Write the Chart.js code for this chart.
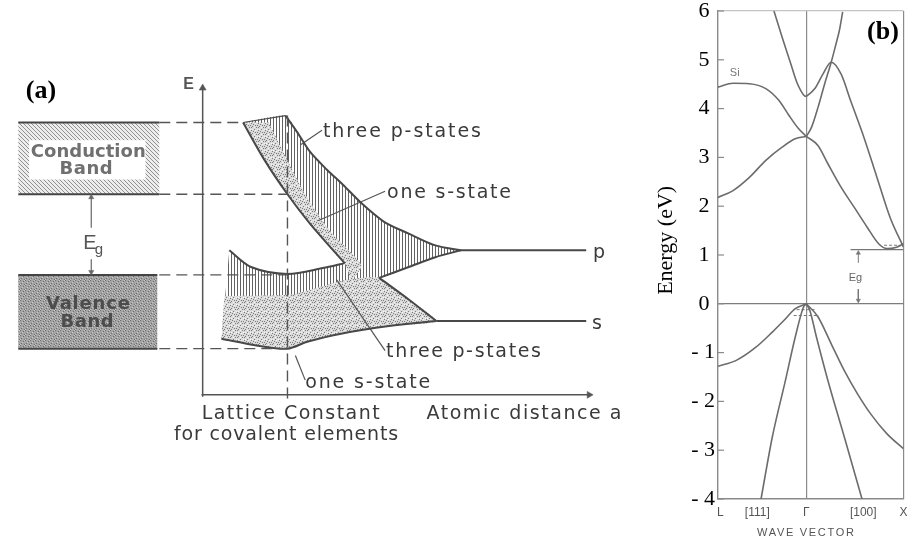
<!DOCTYPE html>
<html><head><meta charset="utf-8">
<script src="https://cdn.jsdelivr.net/npm/chart.js@4.4.1/dist/chart.umd.min.js"></script>
<style>
html,body{margin:0;padding:0;background:#fff;}
body{width:908px;height:538px;overflow:hidden;position:relative;}
.box{position:absolute;top:0;height:538px;}
#wa{left:0;width:640px;}
#wb{left:640px;width:268px;}
</style></head><body>
<div class="box" id="wa"><canvas id="ca"></canvas></div>
<div class="box" id="wb"><canvas id="cb"></canvas></div>
<script>
/* ===== Panel (a): formation of bands (schematic, arbitrary units) ===== */
/* x = atomic distance, y = electron energy */
const latticeConstant = 21.5;
const cbTopEdge    = [[10.25,69.25],[21,71]];
const pBandUpper   = [[21,71],[24,66.75],[27.25,61.75],[31.5,57.25],[35.5,53.5],[40.5,48.5],[46,44],[52.25,41],[59,38],[65.5,36.75]];
const pLevel       = [[65.5,36.75],[97.25,36.75]];
const pBandLower   = [[65.5,36.75],[59,35],[52.25,32.5],[44.75,29.75]];
const sBandUpper   = [[44.75,29.75],[52.25,24.25],[59.25,18.75]];
const sLevel       = [[59.25,18.75],[97.25,18.75]];
const vbBottomEdge = [[59.25,18.75],[47.25,17.5],[34.75,15.5],[26.5,13.5],[21.5,11.75],[14,12.5],[4.75,14.25]];
const vbTopEdge    = [[6.75,36.75],[12.25,32.5],[21.5,30.75],[30.5,32.25],[36,33.5]];
const cbLeftEdge   = [[10.25,69.25],[15.5,60],[21.5,51],[27.25,43.5],[36,33.5]];
const sStripRight  = [[16.75,69.25],[26,51],[32.25,41.75],[40.25,33],[37.75,29.25]];
const sStippleTop  = [[5.5,25.1],[22.25,25.5],[30.5,27.6],[36.5,29.25],[44.75,29.75]];
const conductionBox = [[-46.75,69.25],[-11,69.25],[-11,51],[-46.75,51]];
const valenceBox    = [[-46.75,30.5],[-11.5,30.5],[-11.5,11.75],[-46.75,11.75]];
const guideLevels   = [69.25,51,30.5,11.75];
const guideEnds     = [10.25,21.5,21.5,21.5];
const gapEdges      = [51,30.5];
const leaderLines   = [[[24.75,63.5],[30.25,67.25]],[[29.25,44.25],[46.25,51.75]],[[34,29.25],[46.25,11.25]],[[23.5,10],[26,3.75]]];

/* ===== Panel (b): Si band structure, k (L..Gamma..X) vs energy (eV) ===== */
const kL = -0.909, kX = 1.0;
const kTickLabels = ['L','[111]','\u0393','[100]','X'];
const kTickValues = [kL,-0.505,0,0.586,kX];
const energyTicks = [-4,-3,-2,-1,0,1,2,3,4,5,6];
const cbL1  = [[-0.909,4.44],[-0.754,4.52],[-0.586,4.51],[-0.417,4.41],[-0.283,4.17],[-0.182,3.87],[-0.081,3.59],[0,3.43]];
const cbL2  = [[-0.909,2.18],[-0.754,2.32],[-0.586,2.59],[-0.417,2.94],[-0.249,3.21],[-0.114,3.38],[0,3.43]];
const cbL3  = [[-0.333,6.0],[-0.249,5.46],[-0.165,4.95],[-0.098,4.54],[-0.023,4.27],[0,4.25]];
const cbX1  = [[0,3.43],[0.054,3.62],[0.121,4.03],[0.189,4.51],[0.256,4.95],[0.306,5.33],[0.340,5.60],[0.374,5.98]];
const cbX2  = [[0,4.25],[0.088,4.41],[0.172,4.71],[0.256,4.95],[0.357,4.71],[0.458,4.15],[0.593,3.41],[0.727,2.59],[0.862,1.77],[1.0,1.16]];
const cbX3  = [[0,3.43],[0.121,3.24],[0.222,2.87],[0.357,2.39],[0.492,1.98],[0.626,1.57],[0.744,1.23],[0.828,1.13],[0.929,1.16],[1.0,1.23]];
const vbL1  = [[-0.909,-1.28],[-0.721,-1.16],[-0.519,-0.89],[-0.350,-0.58],[-0.215,-0.31],[-0.114,-0.10],[0,0]];
const vbL2  = [[-0.468,-4.02],[-0.350,-2.73],[-0.215,-1.57],[-0.114,-0.68],[-0.030,-0.07],[0,0]];
const vbX1  = [[0,0],[0.037,-0.14],[0.104,-0.68],[0.222,-1.57],[0.391,-2.73],[0.576,-4.02]];
const vbX2  = [[0,0],[0.121,-0.27],[0.256,-0.82],[0.391,-1.37],[0.525,-1.84],[0.660,-2.25],[0.828,-2.66],[1.0,-2.97]];
const cbMinLevel = [[0.455,1.11],[1.0,1.11]];
const holeMarks  = [[[-0.10,-0.12],[0.10,-0.12]],[[-0.13,-0.24],[0.13,-0.24]]];
const electronMarks = [[[0.80,1.20],[0.96,1.20]]];
const gapArrowK = 0.535;

/* ---------- helpers ---------- */
const pts = a => a.map(([x,y]) => ({x, y}));
const rev = a => a.slice().reverse();
const FS = '"Liberation Sans", Arial, sans-serif';
const FD = '"DejaVu Sans", sans-serif';
const FT = '"Liberation Serif", "Times New Roman", serif';
const INK = '#484848';

function makePattern(w, h, bg, marks) {
  const c = document.createElement('canvas'); c.width = w; c.height = h;
  const g = c.getContext('2d');
  g.fillStyle = bg; g.fillRect(0, 0, w, h);
  marks.forEach(([col, cells]) => { g.fillStyle = col; cells.forEach(([i, j, a, b]) => g.fillRect(i, j, a || 1, b || 1)); });
  return g.createPattern(c, 'repeat');
}
const vHatch = makePattern(3, 3, '#ffffff', [['#626262', [[0,0,1,3]]]]);
const stipple = makePattern(7, 7, '#dadada', [['#7c7c7c', [[0,0],[4,1],[2,3],[6,4],[1,5],[5,6],[3,6],[6,1]]], ['#f6f6f6', [[2,1],[5,3],[0,3],[3,4]]]]);
const diagHatch = makePattern(4, 4, '#ededed', [['#8f8f8f', [[0,0],[1,1],[2,2],[3,3]]]]);
const darkStipple = makePattern(5, 5, '#a4a4a4', [['#6c6c6c', [[0,0],[3,1],[1,3],[4,4]]], ['#c9c9c9', [[2,2],[4,0],[0,4]]]]);

function lineDS(arr, o) {
  return Object.assign({data: pts(arr), showLine: true, fill: false, borderColor: INK, borderWidth: 2,
    pointRadius: 0, tension: 0.3, order: 1}, o || {});
}
function areaDS(arr, bg, order, tension) {
  return {data: pts(arr), showLine: true, fill: 'shape', backgroundColor: bg, borderColor: 'rgba(0,0,0,0)',
    borderWidth: 1, pointRadius: 0, tension: tension === undefined ? 0.2 : tension, order};
}
function arrowDS(arr, rot, radius, col, o) {
  return Object.assign({data: pts(arr), showLine: true, fill: false, borderColor: col, borderWidth: 1.5,
    pointStyle: 'triangle', pointRadius: arr.map((p, i) => radius[i]), pointRotation: rot,
    pointBackgroundColor: col, pointBorderColor: col, pointBorderWidth: 0.5, tension: 0, order: 0}, o || {});
}
function drawText(ctx, s, px, py, o) {
  ctx.save();
  ctx.font = o.font; ctx.fillStyle = o.color || '#3f3f3f';
  ctx.textAlign = o.align || 'left'; ctx.textBaseline = o.base || 'alphabetic';
  if (o.width) {
    const n = Array.from(s).length, w = ctx.measureText(s).width;
    if (n > 1 && 'letterSpacing' in ctx) ctx.letterSpacing = ((o.width - w) / (n - 1)).toFixed(2) + 'px';
  }
  ctx.fillText(s, px, py);
  ctx.restore();
}

/* ---------- Panel (a) datasets ---------- */
const upperBandPoly = [...cbTopEdge, ...pBandUpper.slice(1), ...pBandLower.slice(1), ...rev(cbLeftEdge)];
const upperStripPoly = [...cbLeftEdge, ...rev(sStripRight)];
const lowerBandPoly = [...vbTopEdge, sStippleTop[sStippleTop.length - 1], ...sBandUpper.slice(1), ...vbBottomEdge.slice(1)];
const lowerStipplePoly = [...sStippleTop, ...sBandUpper.slice(1), ...vbBottomEdge.slice(1)];

const dsA = [];
[pBandUpper, pBandLower, sBandUpper, vbBottomEdge, vbTopEdge, cbLeftEdge].forEach(a => dsA.push(lineDS(a)));
[pLevel, sLevel].forEach(a => dsA.push(lineDS(a, {tension: 0})));
dsA.push(lineDS(cbTopEdge, {borderWidth: 1.2, tension: 0}));
leaderLines.forEach(a => dsA.push(lineDS(a, {borderWidth: 1.2, tension: 0, borderColor: '#555'})));
[conductionBox, valenceBox].forEach(b => {
  dsA.push(lineDS([b[0], b[1]], {tension: 0, borderColor: '#444', borderWidth: 2}));
  dsA.push(lineDS([b[3], b[2]], {tension: 0, borderColor: '#444', borderWidth: 2}));
});
dsA.push(areaDS(conductionBox, diagHatch, 15, 0));
dsA.push(areaDS(valenceBox, darkStipple, 15, 0));
guideLevels.forEach((lv, i) => dsA.push(lineDS([[conductionBox[1][0], lv], [guideEnds[i], lv]],
  {tension: 0, borderWidth: 1.4, borderColor: '#555', borderDash: [11, 6], order: 0})));
dsA.push(lineDS([[latticeConstant, 71], [latticeConstant, -2]], {tension: 0, borderWidth: 1.4, borderColor: '#555', borderDash: [11, 6], order: 0}));
dsA.push(arrowDS([[0, -0.5], [0, 78]], [0, 0], [0, 4], '#555'));
dsA.push(arrowDS([[-0.3, 0], [98, 0]], [0, 90], [0, 4], '#555'));
dsA.push(arrowDS([[-28.25, gapEdges[0] - 0.75], [-28.25, gapEdges[1] + 0.75]], [0, 180], [3, 3], '#666', {borderWidth: 1.2}));
dsA.push(areaDS(upperBandPoly, vHatch, 12));
dsA.push(areaDS(lowerBandPoly, vHatch, 12));
dsA.push(areaDS(upperStripPoly, stipple, 11));
dsA.push(areaDS(lowerStipplePoly, stipple, 11));

const textA = {
  id: 'textA',
  afterDatasetsDraw(chart) {
    const {ctx, scales: {x, y}} = chart;
    const X = v => x.getPixelForValue(v), Y = v => y.getPixelForValue(v);
    ctx.save();
    ctx.fillStyle = '#fff';
    ctx.fillRect(X(-44), Y(64.75), X(-14.5) - X(-44), Y(54.75) - Y(64.75));
    ctx.fillRect(X(-31.2), Y(42.5), X(-24.8) - X(-31.2), Y(34.5) - Y(42.5));
    ctx.restore();
    const lab = (s, xv, yv, o) => drawText(ctx, s, X(xv), Y(yv), o);
    lab('(a)', -41, 77.25, {font: 'bold 26px ' + FT, color: '#000', align: 'center', base: 'middle'});
    lab('E', -3.6, 79, {font: 'bold 16px ' + FS, color: '#555', align: 'center', base: 'middle'});
    lab('Conduction', -29, 61.75, {font: 'bold 18px ' + FD, color: '#707070', align: 'center', base: 'middle', width: 115});
    lab('Band', -29.5, 57.25, {font: 'bold 18px ' + FD, color: '#707070', align: 'center', base: 'middle', width: 53});
    lab('Valence', -29, 23, {font: 'bold 18px ' + FD, color: '#4c4c4c', align: 'center', base: 'middle', width: 84});
    lab('Band', -29.25, 18.5, {font: 'bold 18px ' + FD, color: '#4c4c4c', align: 'center', base: 'middle', width: 53});
    lab('E', -28.6, 38.6, {font: '20px ' + FS, color: '#555', align: 'center', base: 'middle'});
    lab('g', -26.3, 36.9, {font: '15px ' + FS, color: '#555', align: 'center', base: 'middle'});
    const f = '19px ' + FD, c = '#3a3a3a';
    lab('three p-states', 30.5, 65.5, {font: f, color: c, width: 158});
    lab('one s-state', 46.75, 50, {font: f, color: c, width: 124});
    lab('p', 99, 34.75, {font: f, color: c});
    lab('s', 98.75, 16.75, {font: f, color: c});
    lab('three p-states', 46.5, 9.75, {font: f, color: c, width: 155});
    lab('one s-state', 26, 1.75, {font: f, color: c, width: 125});
    lab('Lattice Constant', 22.5, -6.1, {font: f, color: c, align: 'center', width: 178});
    lab('for covalent elements', 21.25, -11.5, {font: f, color: c, align: 'center', width: 224});
    lab('Atomic distance a', 56.75, -6.1, {font: f, color: c, width: 195});
  }
};

new Chart(document.getElementById('ca'), {
  type: 'scatter',
  data: {datasets: dsA},
  options: {
    responsive: true, maintainAspectRatio: false, animation: false, events: [],
    layout: {padding: 0},
    plugins: {legend: {display: false}, tooltip: {enabled: false}},
    scales: {
      x: {type: 'linear', min: -50.25, max: 109.75, display: false},
      y: {type: 'linear', min: -35.25, max: 99.25, display: false}
    }
  },
  plugins: [textA]
});

/* ---------- Panel (b) ---------- */
const BAND = '#6c6c6c';
function bandDS(arr) {
  return {data: pts(arr), showLine: true, fill: false, borderColor: BAND, borderWidth: 1.6, pointRadius: 0, cubicInterpolationMode: 'monotone'};
}
const dsB = [cbL1, cbL2, cbL3, cbX1, cbX2, cbX3, vbL1, vbL2, vbX1, vbX2].map(bandDS);
dsB.push({data: pts(cbMinLevel), showLine: true, borderColor: '#777', borderWidth: 1.2, pointRadius: 0});
holeMarks.concat(electronMarks).forEach(a => dsB.push({data: pts(a), showLine: true, borderColor: '#777', borderWidth: 1, borderDash: [3, 2], pointRadius: 0}));
dsB.push(arrowDS([[gapArrowK, 0.3], [gapArrowK, 0.07]], [0, 180], [0, 2.5], '#777', {borderWidth: 1}));
dsB.push(arrowDS([[gapArrowK, 0.84], [gapArrowK, 1.04]], [0, 0], [0, 2.5], '#777', {borderWidth: 1}));

const decoB = {
  id: 'decoB',
  afterDraw(chart) {
    const {ctx, chartArea: a, scales: {x, y}} = chart;
    ctx.save();
    ctx.strokeStyle = '#8a8a8a'; ctx.lineWidth = 1.2;
    energyTicks.forEach(v => { const py = y.getPixelForValue(v); ctx.beginPath(); ctx.moveTo(a.left, py); ctx.lineTo(a.left + 6, py); ctx.stroke(); });
    ctx.restore();
    const fx = '12px ' + FS;
    kTickLabels.forEach((s, i) => {
      const px = x.getPixelForValue(kTickValues[i]);
      drawText(ctx, s, i === 0 ? px - 1 : px, a.bottom + 14, {font: fx, color: '#555', align: i === 0 ? 'left' : 'center', base: 'middle'});
    });
    drawText(ctx, 'WAVE VECTOR', x.getPixelForValue(0), a.bottom + 33.5, {font: '11px ' + FS, color: '#555', align: 'center', base: 'middle', width: 97});
    ctx.save();
    ctx.translate(a.left - 52, y.getPixelForValue(1.3));
    ctx.rotate(-Math.PI / 2);
    drawText(ctx, 'Energy (eV)', 0, 0, {font: '22px ' + FT, color: '#000', align: 'center', base: 'middle'});
    ctx.restore();
    drawText(ctx, '(b)', x.getPixelForValue(0.788), y.getPixelForValue(5.56), {font: 'bold 26px ' + FT, color: '#000', align: 'center', base: 'middle'});
    drawText(ctx, 'Si', x.getPixelForValue(-0.737), y.getPixelForValue(4.74), {font: '11px ' + FS, color: '#777', align: 'center', base: 'middle'});
    drawText(ctx, 'Eg', x.getPixelForValue(0.505), y.getPixelForValue(0.52), {font: '11px ' + FS, color: '#666', align: 'center', base: 'middle'});
  }
};

new Chart(document.getElementById('cb'), {
  type: 'scatter',
  data: {datasets: dsB},
  options: {
    responsive: true, maintainAspectRatio: false, animation: false, events: [],
    layout: {padding: {top: 11, right: 1, bottom: 39, left: 0}},
    plugins: {legend: {display: false}, tooltip: {enabled: false}},
    scales: {
      x: {
        type: 'linear', min: kL, max: kX,
        afterBuildTicks: s => { s.ticks = [{value: kL}, {value: 0}, {value: kX}]; },
        afterFit: s => { s.height = 0; s.paddingLeft = 0; s.paddingRight = 0; },
        ticks: {display: false},
        grid: {drawTicks: false, lineWidth: 1.2, color: c => (c.tick && (c.tick.value === 0 || c.tick.value === kX)) ? '#8a8a8a' : 'rgba(0,0,0,0)'},
        border: {display: true, color: '#8a8a8a', width: 1.4}
      },
      y: {
        type: 'linear', min: -4, max: 6,
        afterBuildTicks: s => { s.ticks = energyTicks.map(v => ({value: v})); },
        afterFit: s => { s.width = 78; s.paddingTop = 0; s.paddingBottom = 0; },
        ticks: {autoSkip: false, padding: 3, color: '#000', font: {family: FT, size: 22, lineHeight: 1},
          callback: v => v < 0 ? '- ' + Math.abs(v) : v + ' '},
        grid: {drawTicks: false, lineWidth: 1.2, color: c => !c.tick ? 'rgba(0,0,0,0)' : (c.tick.value === 0 ? '#7d7d7d' : (c.tick.value === 6 ? '#c4c4c4' : 'rgba(0,0,0,0)'))},
        border: {display: true, color: '#8a8a8a', width: 1.4}
      }
    }
  },
  plugins: [decoB]
});
</script>
</body></html>
